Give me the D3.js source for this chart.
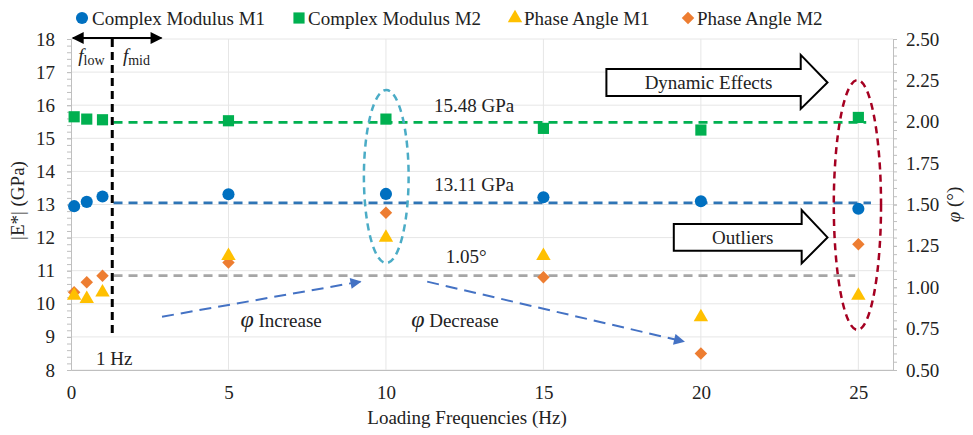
<!DOCTYPE html>
<html><head><meta charset="utf-8">
<script src="https://cdn.jsdelivr.net/npm/d3@7"></script>
<style>
html,body{margin:0;padding:0;background:#fff;}
text{font-family:"Liberation Serif","Times New Roman",serif;fill:#222;}
</style></head>
<body><svg id="c" width="973" height="435"></svg>
<script>
// ---- data ----
const frequencies = [0.1, 0.5, 1, 5, 10, 15, 20, 25];
const modulusM1 = [12.95, 13.08, 13.24, 13.31, 13.32, 13.22, 13.10, 12.87];
const modulusM2 = [15.65, 15.58, 15.56, 15.53, 15.58, 15.30, 15.25, 15.63];
const phaseM1 = [0.95, 0.93, 0.97, 1.19, 1.30, 1.19, 0.82, 0.95];
const phaseM2 = [0.97, 1.03, 1.07, 1.15, 1.45, 1.06, 0.60, 1.26];
const seriesNames = ["Complex Modulus M1", "Complex Modulus M2", "Phase Angle M1", "Phase Angle M2"];
const seriesColors = ["#0070C0", "#00B050", "#FFC000", "#ED7D31"];
const meanM2 = 15.48, meanM1 = 13.05, meanPhase = 1.07;
const meanLabels = ["15.48 GPa", "13.11 GPa", "1.05°"];
const xTicks = [0, 5, 10, 15, 20, 25];
const yLeftTicks = [8, 9, 10, 11, 12, 13, 14, 15, 16, 17, 18];
const yRightTicks = [0.5, 0.75, 1.0, 1.25, 1.5, 1.75, 2.0, 2.25, 2.5];

const svg = d3.select("#c");
const x = d3.scaleLinear().domain([0, 26.1]).range([71, 893]);
const yL = d3.scaleLinear().domain([8, 18]).range([370, 39]);
const yR = d3.scaleLinear().domain([0.5, 2.5]).range([370, 39]);

// grid
const g = svg.append("g");
g.selectAll("line.h").data(yLeftTicks).join("line")
  .attr("x1", x(0)).attr("x2", x(26.1)).attr("y1", d => yL(d)).attr("y2", d => yL(d))
  .attr("stroke", "#E6E6E6").attr("stroke-width", 1);
g.selectAll("line.v").data(xTicks.slice(1)).join("line")
  .attr("x1", d => x(d)).attr("x2", d => x(d)).attr("y1", yL(8)).attr("y2", yL(18))
  .attr("stroke", "#E6E6E6").attr("stroke-width", 1);

// axes
const axStyle = sel => {
  sel.select(".domain").attr("stroke", "#BFBFBF");
  sel.selectAll(".tick line").attr("stroke", "#BFBFBF");
  sel.selectAll("text").style("font-family", '"Liberation Serif",serif').style("font-size", "19px").attr("fill", "#222");
};
const minorL = d3.range(8, 18.001, 0.2);
const minorR = d3.range(0.5, 2.5001, 0.05);
svg.append("g").attr("transform", `translate(${x(0)},0)`)
  .call(d3.axisLeft(yL).tickValues(minorL).tickSize(4).tickFormat(""))
  .call(axStyle);
svg.append("g").attr("transform", `translate(${x(0)},0)`)
  .call(d3.axisLeft(yL).tickValues(yLeftTicks).tickSize(4).tickPadding(12).tickFormat(d3.format("d")))
  .call(axStyle).call(s => s.select(".domain").remove());
svg.append("g").attr("transform", `translate(${x(26.1)},0)`)
  .call(d3.axisRight(yR).tickValues(minorR).tickSize(4).tickFormat(""))
  .call(axStyle);
svg.append("g").attr("transform", `translate(${x(26.1)},0)`)
  .call(d3.axisRight(yR).tickValues(yRightTicks).tickSize(4).tickPadding(9).tickFormat(d3.format(".2f")))
  .call(axStyle).call(s => s.select(".domain").remove());
svg.append("g").attr("transform", `translate(0,${yL(8)})`)
  .call(d3.axisBottom(x).tickValues(xTicks).tickSize(0).tickPadding(16).tickFormat(d3.format("d")))
  .call(axStyle);

// axis titles
svg.append("text").attr("transform", `translate(24,${(yL(8)+yL(18))/2 - 4}) rotate(-90)`)
  .attr("text-anchor", "middle").style("font-size", "19px").text("|E*| (GPa)");
svg.append("text").attr("transform", `translate(960,${(yL(8)+yL(18))/2}) rotate(-90)`)
  .attr("text-anchor", "middle").style("font-size", "19px")
  .call(t => { t.append("tspan").style("font-style", "italic").text("φ"); t.append("tspan").text(" (°)"); });
svg.append("text").attr("x", 467).attr("y", 424).attr("text-anchor", "middle")
  .style("font-size", "19px").text("Loading Frequencies (Hz)");

// mean dashed lines
const lines = [
  {v: yL(meanM2), c: "#00B050", x2: 25.25},
  {v: yL(meanM1), c: "#2E75B6", x2: 25.4},
  {v: yR(meanPhase), c: "#A6A6A6", x2: 24.9}
];
svg.selectAll("line.mean").data(lines).join("line")
  .attr("x1", x(1.35)).attr("x2", d => x(d.x2)).attr("y1", d => d.v).attr("y2", d => d.v)
  .attr("stroke", d => d.c).attr("stroke-width", 2.6).attr("stroke-dasharray", "9,6");

// mean labels
const labPos = [[12.8, 16.0], [12.8, 13.6], [12.55, 11.42]];
svg.selectAll("text.ml").data(meanLabels).join("text")
  .attr("x", (d, i) => x(labPos[i][0])).attr("y", (d, i) => yL(labPos[i][1]))
  .attr("dy", "0.35em").attr("text-anchor", "middle").style("font-size", "19px").text(d => d);

// 1 Hz vertical line + f arrows
svg.append("line").attr("x1", x(1.31)).attr("x2", x(1.31)).attr("y1", yL(18.0)).attr("y2", yL(9.06))
  .attr("stroke", "#000").attr("stroke-width", 3).attr("stroke-dasharray", "8,5");
const defs = svg.append("defs");
function marker(id, color, w, h) {
  defs.append("marker").attr("id", id).attr("viewBox", "0 0 10 10").attr("refX", 9).attr("refY", 5)
    .attr("markerWidth", w).attr("markerHeight", h).attr("markerUnits", "userSpaceOnUse")
    .attr("orient", "auto-start-reverse")
    .append("path").attr("d", "M0,0L10,5L0,10Z").attr("fill", color);
}
marker("ab", "#000", 14, 12);
marker("ablue", "#4472C4", 14, 11);
svg.append("line").attr("x1", x(0.06)).attr("x2", x(2.87)).attr("y1", yL(18.03)).attr("y2", yL(18.03))
  .attr("stroke", "#000").attr("stroke-width", 2)
  .attr("marker-start", "url(#ab)").attr("marker-end", "url(#ab)");
function fLabel(fx, sub) {
  const t = svg.append("text").attr("x", x(fx)).attr("y", yL(17.5)).attr("dy", "0.35em").style("font-size", "19px");
  t.append("tspan").style("font-style", "italic").text("f");
  t.append("tspan").attr("dy", 3).style("font-size", "14px").text(sub);
}
fLabel(0.23, "low");
fLabel(1.65, "mid");
svg.append("text").attr("x", x(1.37)).attr("y", yL(8.36)).attr("dy", "0.35em").attr("text-anchor", "middle")
  .style("font-size", "19px").text("1 Hz");

// phi arrows
const phiArrows = [[[2.89, 9.61], [9.19, 10.67]], [[11.31, 10.67], [19.46, 8.86]]];
svg.selectAll("line.pa").data(phiArrows).join("line")
  .attr("x1", d => x(d[0][0])).attr("y1", d => yL(d[0][1]))
  .attr("x2", d => x(d[1][0])).attr("y2", d => yL(d[1][1]))
  .attr("stroke", "#4472C4").attr("stroke-width", 2).attr("stroke-dasharray", "12,7")
  .attr("marker-end", "url(#ablue)");
function phiLabel(fx, word) {
  const t = svg.append("text").attr("x", x(fx)).attr("y", yL(9.5)).attr("dy", "0.35em").style("font-size", "19px");
  t.append("tspan").style("font-style", "italic").style("font-size", "24px").text("φ");
  t.append("tspan").text(" " + word);
}
phiLabel(5.38, "Increase");
phiLabel(10.8, "Decrease");

// ellipses
const ellipses = [
  {f0: 9.3, f1: 10.72, y0: 11.23, y1: 16.46, c: "#4BACC6"},
  {f0: 24.22, f1: 25.72, y0: 9.21, y1: 16.76, c: "#A50021"}
];
svg.selectAll("ellipse").data(ellipses).join("ellipse")
  .attr("cx", d => (x(d.f0) + x(d.f1)) / 2).attr("cy", d => (yL(d.y0) + yL(d.y1)) / 2)
  .attr("rx", d => (x(d.f1) - x(d.f0)) / 2).attr("ry", d => (yL(d.y0) - yL(d.y1)) / 2)
  .attr("fill", "none").attr("stroke", d => d.c).attr("stroke-width", 2.5).attr("stroke-dasharray", "7,5");

// block arrows
const blocks = [
  {label: "Dynamic Effects", fx0: 17.0, fxb: 23.17, fxt: 24.02, r0: 17.09, r1: 16.28, h0: 17.52, h1: 15.89},
  {label: "Outliers", fx0: 19.14, fxb: 23.2, fxt: 24.02, r0: 12.41, r1: 11.60, h0: 12.83, h1: 11.22}
];
blocks.forEach(b => {
  const ym = (yL(b.r0) + yL(b.r1)) / 2;
  const p = [[x(b.fx0), yL(b.r0)], [x(b.fxb), yL(b.r0)], [x(b.fxb), yL(b.h0)], [x(b.fxt), ym],
             [x(b.fxb), yL(b.h1)], [x(b.fxb), yL(b.r1)], [x(b.fx0), yL(b.r1)]];
  svg.append("path").attr("d", "M" + p.join("L") + "Z").attr("fill", "#fff").attr("stroke", "#000").attr("stroke-width", 2);
  svg.append("text").attr("x", (x(b.fx0) + x(b.fxb)) / 2 + 5).attr("y", ym).attr("dy", "0.35em")
    .attr("text-anchor", "middle").style("font-size", "19px").text(b.label);
});

// markers
const sym = [d3.symbolCircle, d3.symbolSquare, d3.symbolTriangle, d3.symbolSquare];
const sizes = [115, 125, 90, 78];
const rot = [0, 0, 0, 45];
const series = [
  {vals: modulusM1, y: yL}, {vals: modulusM2, y: yL}, {vals: phaseM1, y: yR}, {vals: phaseM2, y: yR}
];
[1, 0, 3, 2].forEach(i => {
  const s = series[i];
  svg.append("g").selectAll("path").data(frequencies).join("path")
    .attr("d", d3.symbol().type(sym[i]).size(sizes[i]))
    .attr("transform", (d, j) => `translate(${x(d)},${s.y(s.vals[j])}) rotate(${rot[i]})`)
    .attr("fill", seriesColors[i]);
});

// legend
const legX = [82, 299, 515, 688];
const leg = svg.append("g");
seriesNames.forEach((n, i) => {
  leg.append("path").attr("d", d3.symbol().type(sym[i]).size(sizes[i]))
    .attr("transform", `translate(${legX[i]},18) rotate(${rot[i]})`).attr("fill", seriesColors[i]);
  leg.append("text").attr("x", legX[i] + (i === 0 ? 10 : 9)).attr("y", 18).attr("dy", "0.35em")
    .style("font-size", "19px").text(n);
});
</script></body></html>
